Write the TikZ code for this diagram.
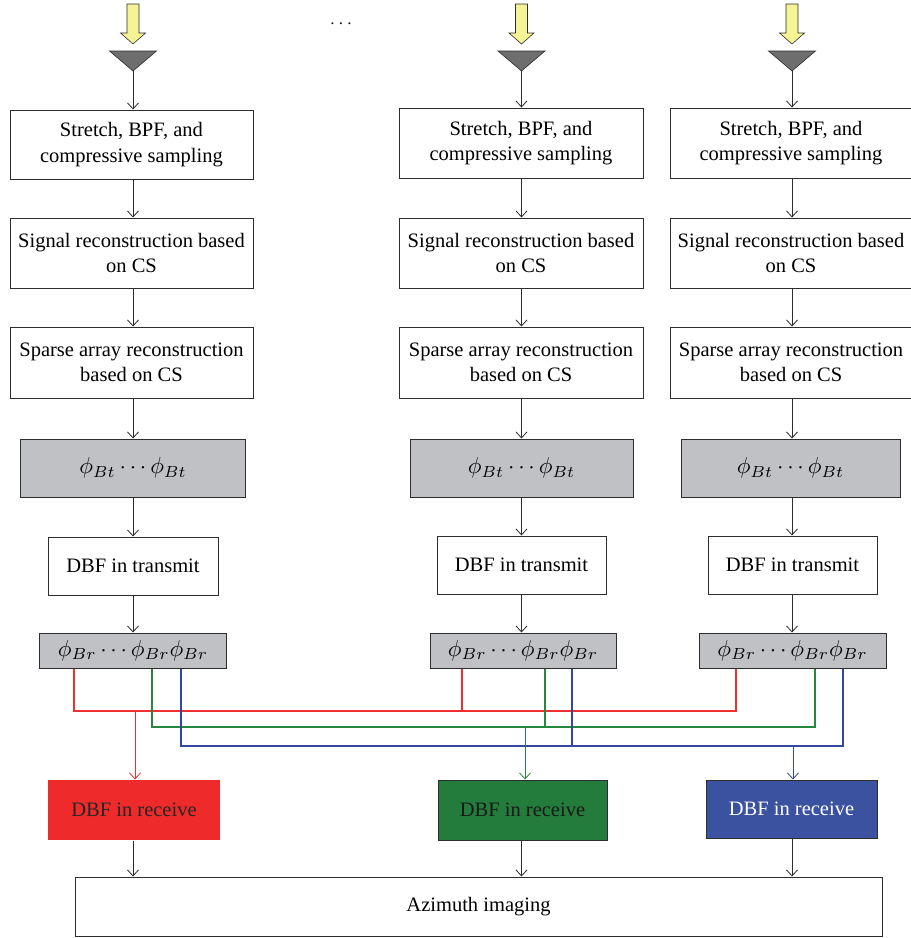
\documentclass[tikz,border=0pt]{standalone}
\usepackage{graphicx}
\usepackage{fontspec}
\setmainfont{Liberation Serif}
\usetikzlibrary{arrows.meta,calc}
\definecolor{boxgray}{RGB}{192,193,196}
\definecolor{linecol}{RGB}{45,45,45}
\definecolor{rfill}{RGB}{238,42,42}
\definecolor{gfill}{RGB}{35,124,60}
\definecolor{bfill}{RGB}{58,82,160}
\definecolor{rline}{RGB}{240,48,48}
\definecolor{gline}{RGB}{40,135,62}
\definecolor{bline}{RGB}{50,72,160}
\definecolor{yel}{RGB}{246,243,150}
\definecolor{tri}{RGB}{110,110,110}
\newcommand\phimath[1]{\scalebox{2.3}{$#1$}}
\begin{document}
\begin{tikzpicture}[x=1pt,y=-1pt,
  box/.style={draw=linecol,line width=1pt,fill=white,align=center,inner sep=0pt,
    font=\fontsize{20.5}{25.5}\selectfont},
  gbox/.style={box,fill=boxgray,font=\normalsize},
  arr/.style={draw=linecol,line width=0.8pt,-{Straight Barb[length=6pt,width=11pt]}},
  carr/.style={line width=0.8pt,-{Straight Barb[length=6pt,width=11pt]}},
  bus/.style={line width=1.3pt},
  yarrow/.style={draw=linecol,line width=0.6pt,fill=yel},
  antenna/.style={draw=linecol,line width=0.6pt,fill=tri}]
\useasboundingbox (0,0) rectangle (911,938);

% dots
\node (dots) at (341,24) {\scalebox{1.9}{$\cdots$}};

% columns
\foreach \c/\n in {133/1,521.5/2,792/3}{
  \draw[yarrow] (\c-6,4) -- (\c+6,4) -- (\c+6,33) -- (\c+12.5,33) -- (\c,44) -- (\c-12.5,33) -- (\c-6,33) -- cycle;
  \draw[antenna] (\c-23.5,51) -- (\c+23.5,51) -- (\c,71) -- cycle;
  \coordinate (t\n) at (\c,71);
}

% column 1
\node[box,minimum width=243pt,minimum height=69pt] (a1) at (131.5,144.5) {Stretch, BPF, and\\compressive sampling};
\node[box,minimum width=243pt,minimum height=70pt] (b1) at (131.5,253) {Signal reconstruction based\\on CS};
\node[box,minimum width=243pt,minimum height=71pt] (c1) at (131.5,362.5) {Sparse array reconstruction\\based on CS};
\node[gbox,minimum width=225pt,minimum height=58pt] (d1) at (133,468) {\phimath{\phi_{Bt}\cdots\phi_{Bt}}};
\node[box,minimum width=170pt,minimum height=58pt] (e1) at (133,566) {DBF in transmit};
\node[gbox,minimum width=187pt,minimum height=35pt] (f1) at (133,650.5) {\phimath{\phi_{Br}\cdots\phi_{Br}\phi_{Br}}};

% column 2
\node[box,minimum width=244pt,minimum height=70pt] (a2) at (521,143) {Stretch, BPF, and\\compressive sampling};
\node[box,minimum width=244pt,minimum height=70pt] (b2) at (521,253) {Signal reconstruction based\\on CS};
\node[box,minimum width=244pt,minimum height=71pt] (c2) at (521,362.5) {Sparse array reconstruction\\based on CS};
\node[gbox,minimum width=223pt,minimum height=58pt] (d2) at (521.5,468) {\phimath{\phi_{Bt}\cdots\phi_{Bt}}};
\node[box,minimum width=169pt,minimum height=58pt] (e2) at (521.5,565) {DBF in transmit};
\node[gbox,minimum width=186pt,minimum height=35pt] (f2) at (523,650.5) {\phimath{\phi_{Br}\cdots\phi_{Br}\phi_{Br}}};

% column 3
\node[box,minimum width=242pt,minimum height=70pt] (a3) at (791,143) {Stretch, BPF, and\\compressive sampling};
\node[box,minimum width=242pt,minimum height=70pt] (b3) at (791,253) {Signal reconstruction based\\on CS};
\node[box,minimum width=242pt,minimum height=71pt] (c3) at (791,362.5) {Sparse array reconstruction\\based on CS};
\node[gbox,minimum width=219pt,minimum height=58pt] (d3) at (790.5,468) {\phimath{\phi_{Bt}\cdots\phi_{Bt}}};
\node[box,minimum width=169pt,minimum height=58pt] (e3) at (792.5,565) {DBF in transmit};
\node[gbox,minimum width=187pt,minimum height=35pt] (f3) at (792.5,650.5) {\phimath{\phi_{Br}\cdots\phi_{Br}\phi_{Br}}};

% receive boxes
\node[box,draw=none,fill=rfill,text=black!85,minimum width=172pt,minimum height=60pt] (r) at (134,810) {DBF in receive};
\node[box,fill=gfill,text=black!90,minimum width=169pt,minimum height=60pt] (g) at (522.5,810) {DBF in receive};
\node[box,fill=bfill,text=white,minimum width=171pt,minimum height=58pt] (b) at (791.5,809) {DBF in receive};
\node[box,minimum width=807pt,minimum height=59pt] (az) at (478.5,906.5) {Azimuth imaging};

% vertical arrows
\foreach \n in {1,2,3}{
  \draw[arr] (t\n) -- (t\n |- a\n.north);
  \draw[arr] (a\n.south -| t\n) -- (t\n |- b\n.north);
  \draw[arr] (b\n.south -| t\n) -- (t\n |- c\n.north);
  \draw[arr] (c\n.south -| t\n) -- (t\n |- d\n.north);
  \draw[arr] (d\n.south -| t\n) -- (t\n |- e\n.north);
  \draw[arr] (e\n.south -| t\n) -- (t\n |- f\n.north);
}
\draw[arr] (r.south -| t1) -- (t1 |- az.north);
\draw[arr] (g.south -| t2) -- (t2 |- az.north);
\draw[arr] (b.south -| t3) -- (t3 |- az.north);

% buses
\coordinate (rb) at (0,711);
\coordinate (gb) at (0,727);
\coordinate (bb) at (0,746);
\coordinate (rx1) at (74,0);   \coordinate (rx2) at (462,0); \coordinate (rx3) at (736,0);
\coordinate (gx1) at (152,0);  \coordinate (gx2) at (545,0); \coordinate (gx3) at (815,0);
\coordinate (bx1) at (181,0);  \coordinate (bx2) at (572,0); \coordinate (bx3) at (843,0);

\draw[bus,rline] (f1.south -| rx1) -- (rx1 |- rb) -- (rx3 |- rb) -- (f3.south -| rx3);
\draw[bus,rline] (f2.south -| rx2) -- (rx2 |- rb);
\draw[bus,gline] (f1.south -| gx1) -- (gx1 |- gb) -- (gx3 |- gb) -- (f3.south -| gx3);
\draw[bus,gline] (f2.south -| gx2) -- (gx2 |- gb);
\draw[bus,bline] (f1.south -| bx1) -- (bx1 |- bb) -- (bx3 |- bb) -- (f3.south -| bx3);
\draw[bus,bline] (f2.south -| bx2) -- (bx2 |- bb);

\coordinate (ra) at (135,711);
\coordinate (ga) at (525,727);
\coordinate (ba) at (793,746);
\draw[carr,rline] (ra) -- (ra |- r.north);
\draw[carr,gline] (ga) -- (ga |- g.north);
\draw[carr,bline] (ba) -- (ba |- b.north);
\end{tikzpicture}
\end{document}
